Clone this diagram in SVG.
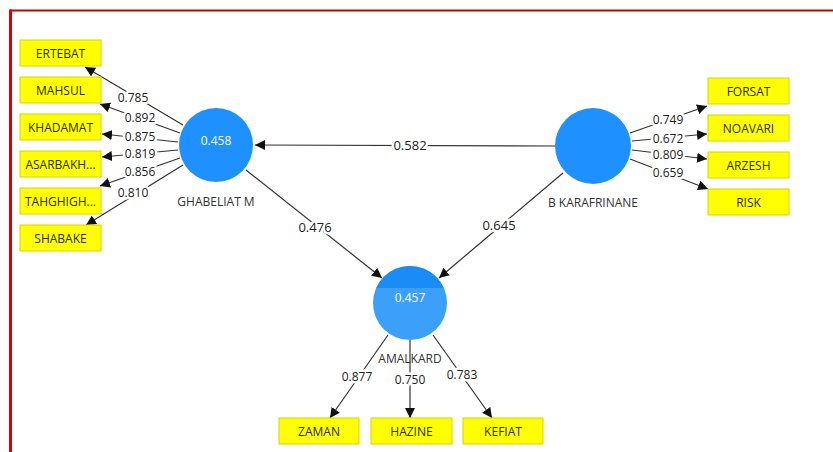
<svg xmlns="http://www.w3.org/2000/svg" width="833" height="452" viewBox="0 0 833 452">
<defs>
<marker id="ah" viewBox="0 0 10 10" refX="10" refY="5" markerWidth="10" markerHeight="10" markerUnits="userSpaceOnUse" orient="auto">
<path d="M0,0 L10,5 L0,10 z" fill="#111"/>
</marker>
<clipPath id="amc"><circle cx="410" cy="303" r="37"/></clipPath>
</defs>
<style>
.box{fill:#ffff00;stroke:#d6d600;stroke-width:1}
.bt{font-family:"Open Sans","Liberation Sans",sans-serif;font-size:12px;fill:#2a2a10;text-anchor:middle}
.lv{fill:#1e90ff}
.lt{font-family:"Open Sans","Liberation Sans",sans-serif;font-size:12px;fill:#fff;text-anchor:middle}
.nm{font-family:"Open Sans","Liberation Sans",sans-serif;font-size:12px;fill:#333;text-anchor:middle}
.c{stroke:#333;stroke-width:1.2;fill:none;marker-end:url(#ah)}
.w{font-family:"Open Sans","Liberation Sans",sans-serif;font-size:12px;fill:#222;text-anchor:middle;paint-order:stroke;stroke:#fff;stroke-width:5px;stroke-linejoin:round}
.wb{font-size:13px}
</style>
<rect width="833" height="452" fill="#fff"/>
<line x1="10" y1="10.5" x2="833" y2="10.5" stroke="#cc0000" stroke-width="2"/>
<line x1="10.5" y1="9.5" x2="10.5" y2="452" stroke="#dd0000" stroke-width="3"/>

<g id="connectors">
<line class="c" x1="183" y1="125" x2="85" y2="67"/>
<line class="c" x1="180" y1="133" x2="100" y2="104"/>
<line class="c" x1="178" y1="142" x2="102" y2="134"/>
<line class="c" x1="178" y1="150" x2="102" y2="157"/>
<line class="c" x1="180" y1="158" x2="100" y2="186"/>
<line class="c" x1="183" y1="165" x2="86" y2="225"/>
<line class="c" x1="630" y1="133" x2="707" y2="106"/>
<line class="c" x1="632" y1="141" x2="707" y2="134"/>
<line class="c" x1="632" y1="150" x2="707" y2="159"/>
<line class="c" x1="630" y1="159" x2="708" y2="189"/>
<line class="c" x1="555" y1="146" x2="255" y2="145"/>
<line class="c" x1="246" y1="170" x2="382" y2="278"/>
<line class="c" x1="563" y1="173" x2="439" y2="278"/>
<line class="c" x1="388" y1="335" x2="330" y2="418"/>
<line class="c" x1="410" y1="340" x2="410" y2="418"/>
<line class="c" x1="433" y1="335" x2="492" y2="418"/>
<text class="w" x="133" y="102">0.785</text>
<text class="w" x="140" y="122">0.892</text>
<text class="w" x="140" y="141">0.875</text>
<text class="w" x="140" y="158">0.819</text>
<text class="w" x="140" y="176">0.856</text>
<text class="w" x="133" y="197">0.810</text>
<text class="w" x="668" y="124">0.749</text>
<text class="w" x="668" y="143">0.672</text>
<text class="w" x="668" y="159">0.809</text>
<text class="w" x="668" y="177">0.659</text>
<text class="w wb" x="410" y="150">0.582</text>
<text class="w wb" x="315" y="232">0.476</text>
<text class="w wb" x="499" y="230">0.645</text>
<text class="w" x="357" y="381">0.877</text>
<text class="w" x="410" y="384">0.750</text>
<text class="w" x="462" y="379">0.783</text>
</g>

<g id="ghabeliat">
<circle class="lv" cx="216" cy="145" r="37"/>
<text class="lt" x="216" y="145">0.458</text>
<text class="nm" x="216" y="206">GHABELIAT M</text>
</g>
<g id="karafrinane">
<circle class="lv" cx="593" cy="146" r="38"/>
<text class="nm" x="593" y="207">B KARAFRINANE</text>
</g>
<g id="amalkard">
<circle cx="410" cy="303" r="37" fill="#3aa0fa"/>
<rect x="373" y="266" width="74" height="22" fill="#1a8cf5" clip-path="url(#amc)"/>
<text class="lt" x="410" y="302">0.457</text>
<text class="nm" x="410" y="363">AMALKARD</text>
</g>

<g id="ertebat"><rect class="box" x="20" y="40" width="81" height="26"/><text class="bt" x="60.5" y="57.5">ERTEBAT</text></g>
<g id="mahsul"><rect class="box" x="20" y="77" width="81" height="26"/><text class="bt" x="60.5" y="94.5">MAHSUL</text></g>
<g id="khadamat"><rect class="box" x="20" y="114" width="81" height="26"/><text class="bt" x="60.5" y="131.5">KHADAMAT</text></g>
<g id="asarbakh"><rect class="box" x="20" y="151" width="81" height="26"/><text class="bt" x="60.5" y="168.5">ASARBAKH...</text></g>
<g id="taghigh"><rect class="box" x="20" y="188" width="81" height="26"/><text class="bt" x="60.5" y="205.5">TAHGHIGH...</text></g>
<g id="shabake"><rect class="box" x="20" y="225" width="81" height="26"/><text class="bt" x="60.5" y="242.5">SHABAKE</text></g>

<g id="forsat"><rect class="box" x="708" y="78" width="81" height="26"/><text class="bt" x="748.5" y="95.5">FORSAT</text></g>
<g id="noavari"><rect class="box" x="708" y="115" width="81" height="26"/><text class="bt" x="748.5" y="132.5">NOAVARI</text></g>
<g id="arzesh"><rect class="box" x="708" y="152" width="81" height="26"/><text class="bt" x="748.5" y="169.5">ARZESH</text></g>
<g id="risk"><rect class="box" x="708" y="189" width="81" height="26"/><text class="bt" x="748.5" y="206.5">RISK</text></g>

<g id="zaman"><rect class="box" x="279" y="418" width="80" height="26"/><text class="bt" x="319" y="435.5">ZAMAN</text></g>
<g id="hazine"><rect class="box" x="371" y="418" width="81" height="26"/><text class="bt" x="411.5" y="435.5">HAZINE</text></g>
<g id="kefiat"><rect class="box" x="463" y="418" width="80" height="26"/><text class="bt" x="503" y="435.5">KEFIAT</text></g>
</svg>
